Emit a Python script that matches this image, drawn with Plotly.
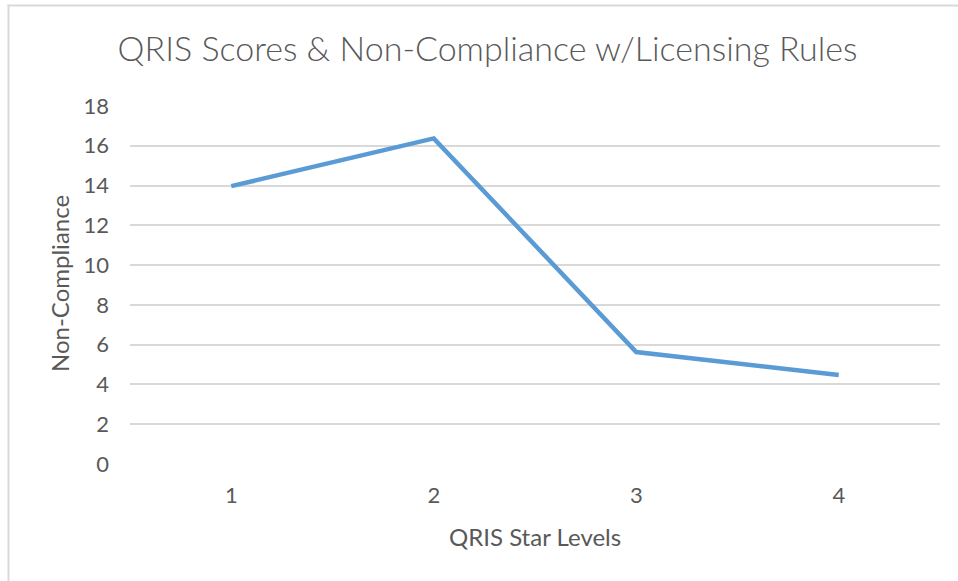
import plotly.graph_objects as go

star_levels = [1, 2, 3, 4]
non_compliance = [13.97, 16.37, 5.63, 4.48]
y_ticks = [0, 2, 4, 6, 8, 10, 12, 14, 16, 18]

FONT = "Lato"
TXT = "#595959"
W, H = 958, 581
L, R, T, B = 130, 18, 106, 117
pw, ph = W - L - R, H - T - B


def px_to_paper_x(px):
    return (px - L) / pw


def px_to_paper_y(py):
    return (H - B - py) / ph


fig = go.Figure()
fig.add_trace(go.Scatter(
    x=star_levels, y=non_compliance, mode="lines",
    line=dict(color="#5B9BD5", width=4.5),
    showlegend=False, hoverinfo="x+y",
))

fig.update_layout(
    width=W, height=H,
    margin=dict(l=L, r=R, t=T, b=B),
    paper_bgcolor="white", plot_bgcolor="white",
    font=dict(family=FONT, color=TXT),
    title=dict(text="QRIS Scores & Non-Compliance w/Licensing Rules",
               x=487.5 / W, y=1 - 49 / H, xref="container", yref="container",
               xanchor="center", yanchor="middle",
               font=dict(family=FONT, size=34, color=TXT, weight=300)),
    xaxis=dict(range=[0.5, 4.5], tickvals=star_levels, ticktext=[str(v) for v in star_levels],
               showgrid=False, zeroline=False, showline=False,
               tickfont=dict(size=22, color=TXT), ticklabelstandoff=16),
    yaxis=dict(range=[0, 18], tickvals=y_ticks, showgrid=True, gridcolor="#D9D9D9",
               gridwidth=1.5, zeroline=False, showline=False,
               tickfont=dict(size=22, color=TXT), ticklabelstandoff=20),
    shapes=[
        dict(type="line", xref="paper", yref="paper",
             x0=px_to_paper_x(7.5), x1=px_to_paper_x(1000),
             y0=px_to_paper_y(5.5), y1=px_to_paper_y(5.5),
             line=dict(color="#D9D9D9", width=2), layer="below"),
        dict(type="line", xref="paper", yref="paper",
             x0=px_to_paper_x(8.5), x1=px_to_paper_x(8.5),
             y0=px_to_paper_y(4.5), y1=px_to_paper_y(640),
             line=dict(color="#D9D9D9", width=2), layer="below"),
    ],
    annotations=[
        dict(text="QRIS Star Levels", xref="paper", yref="paper",
             x=px_to_paper_x(535), y=px_to_paper_y(536), xanchor="center", yanchor="middle",
             showarrow=False, font=dict(family=FONT, size=24, color=TXT)),
        dict(text="Non-Compliance", xref="paper", yref="paper",
             x=px_to_paper_x(59), y=px_to_paper_y(284), xanchor="center", yanchor="middle",
             textangle=-90, showarrow=False, font=dict(family=FONT, size=24, color=TXT)),
    ],
)

fig.write_html("out.html", config={"displayModeBar": False},
               post_script="document.body.style.margin='0';document.body.style.overflow='hidden';")
